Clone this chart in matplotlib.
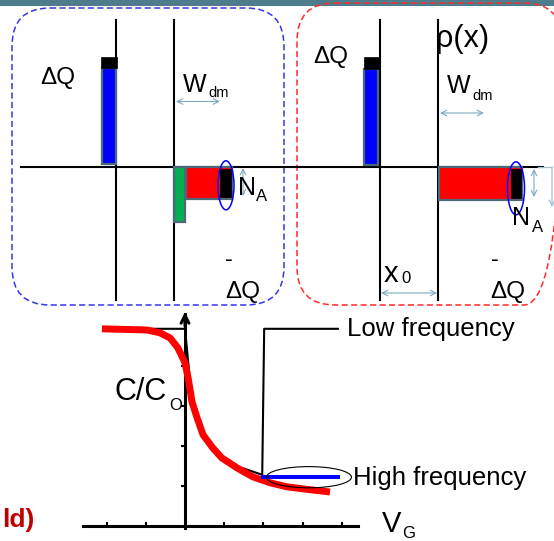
import matplotlib
matplotlib.use("Agg")
import matplotlib.pyplot as plt
from matplotlib.patches import FancyBboxPatch, Rectangle, Ellipse

plt.rcParams['font.family'] = ['Liberation Sans', 'DejaVu Sans']

# ---------------- C-V curve data (V_G in tick units, C/Co in tick units) -------------
vg_hf = [-2.12, -0.97, -0.64, -0.38, -0.18, 0.0, 0.08, 0.18, 0.31, 0.46, 0.71,
         0.94, 1.33, 1.73, 2.17, 2.60, 3.00, 3.70]
c_hf = [4.93, 4.90, 4.83, 4.70, 4.45, 4.08, 3.70, 3.10, 2.70, 2.28, 1.95,
        1.70, 1.45, 1.23, 1.08, 0.98, 0.93, 0.85]
vg_lf = [-1.0, 0.0, 0.18, 0.46, 0.94, 1.40, 1.97, 2.02, 3.90]
c_lf = [4.93, 4.93, 3.10, 2.30, 1.76, 1.47, 1.28, 4.93, 4.93]
vg_blue = [2.00, 3.90]
c_blue = [1.22, 1.22]
x_ticks = [-2, -1, 1, 2, 3, 4]
y_ticks = [1, 2, 3, 4]

# ---------------- charge-block diagram data (pixel units) ----------------
# (x_left, x_right, y_top, y_bottom)
left_gate_charge = (101.7, 115.7, 68.3, 164.3)
left_gate_cap = (101.0, 116.5, 57.3, 67.7)
left_inversion = (173.7, 184.7, 167.0, 222.0)
left_depletion = (186.0, 231.5, 167.0, 198.5)
left_dq_sub = (219.5, 230.5, 168.5, 197.0)
right_gate_charge = (364.3, 378.3, 69.3, 165.0)
right_gate_cap = (363.5, 379.0, 56.7, 69.0)
right_depletion = (438.5, 522.0, 167.0, 199.5)
right_dq_sub = (511.0, 521.0, 168.5, 198.0)

fig = plt.figure(figsize=(5.54, 5.41), dpi=100)
ax = fig.add_axes([0, 0, 1, 1])
ax.set_xlim(0, 554)
ax.set_ylim(541, 0)
ax.axis('off')

# top band
ax.add_patch(Rectangle((0, 0), 554, 6, color='#4d7d8c', zorder=0, lw=0))

# dashed rounded boxes
ax.add_patch(FancyBboxPatch((12, 8), 272, 297, boxstyle="round,pad=0,rounding_size=38",
                            fill=False, ec='#3535f0', lw=1.1, ls=(0, (4, 2.2)), zorder=1))
ax.add_patch(FancyBboxPatch((297, 3), 265, 302, boxstyle="round,pad=0,rounding_size=38",
                            fill=False, ec='#ff2a2a', lw=1.1, ls=(0, (4, 2.2)), zorder=1))

# axes lines of the diagrams
for xv in [116, 174, 380, 438]:
    ax.plot([xv, xv], [20, 300], color='black', lw=1.5, zorder=2)
ax.plot([21, 543], [166.5, 166.5], color='black', lw=1.5, zorder=2)

edge = '#4d6878'

def block(r, fc, ec=edge, lw=1.6, z=3):
    x0, x1, y0, y1 = r
    ax.add_patch(Rectangle((x0, y0), x1 - x0, y1 - y0, fc=fc, ec=ec, lw=lw, zorder=z))

block(left_gate_charge, '#0000ff')
block(left_gate_cap, 'black', ec='black', lw=0.5)
block(left_inversion, '#00b050')
block(left_depletion, '#ff0000')
block(left_dq_sub, 'black', ec='black', lw=0.5, z=4)
block(right_gate_charge, '#0000ff')
block(right_gate_cap, 'black', ec='black', lw=0.5)
block(right_depletion, '#ff0000')
block(right_dq_sub, 'black', ec='black', lw=0.5, z=4)

ax.add_patch(Ellipse((226, 185.3), 16, 49, fill=False, ec='#0000ff', lw=1.1, zorder=5))
ax.add_patch(Ellipse((516, 188.3), 17, 53, fill=False, ec='#0000ff', lw=1.1, zorder=5))

acol = '#7fa7c0'
def darrow(p0, p1):
    ax.annotate('', xy=p1, xytext=p0,
                arrowprops=dict(arrowstyle='<->', color=acol, lw=0.8,
                                mutation_scale=10, shrinkA=0, shrinkB=0), zorder=4)

darrow((176, 101.5), (220, 101.5))
darrow((440, 113), (484, 113))
darrow((381, 293), (437, 293))
darrow((243, 168), (243, 196))
darrow((534, 169), (534, 197))
ax.plot([538, 552], [167, 167], color='#a3bfd0', lw=0.9, zorder=4)
ax.annotate('', xy=(552, 207), xytext=(552, 167),
            arrowprops=dict(arrowstyle='->', color='#a3bfd0', lw=0.9,
                            mutation_scale=10, shrinkA=0, shrinkB=0), zorder=4)

def txt(x, y, s, size, **kw):
    ax.text(x, y, s, fontsize=size, ha='left', va='baseline', zorder=6, **kw)

txt(40, 84, 'ΔQ', 17.5)
txt(313, 62.5, 'ΔQ', 17.5)
txt(183, 91.7, 'W', 18)
txt(208, 97.3, 'dm', 10.5)
txt(446.7, 93.3, 'W', 18)
txt(472.7, 100, 'dm', 10.5)
txt(238.3, 195, 'N', 18)
txt(256, 201, 'A', 12)
txt(511.7, 225, 'N', 18)
txt(532.3, 231.7, 'A', 12)
ax.text(229, 260, '-', fontsize=17, ha='center', va='center', zorder=6)
ax.text(494.7, 260, '-', fontsize=17, ha='center', va='center', zorder=6)
txt(225, 298.3, 'ΔQ', 17.5)
txt(490, 298.3, 'ΔQ', 17.5)
txt(436, 46.5, 'ρ(x)', 22)
txt(383.3, 281.7, 'x', 21)
txt(401.7, 283.3, '0', 12)

# labels of the C-V chart
txt(115, 400, 'C/C', 22)
txt(169, 410, 'O', 12)
txt(347, 336, 'Low frequency', 18.5)
txt(353, 485, 'High frequency', 18.5)
txt(382, 532, 'V', 21)
txt(402, 537.5, 'G', 12)
ax.text(35, 527, 'ld)', fontsize=19, fontweight='bold', color='#c00000',
        ha='right', va='baseline', zorder=6)

# ---------------- C-V chart in its own axes ----------------
px_per_x = 39.2
px_per_y = 40.0
x_origin_px, y_origin_px = 185.0, 526.0
ax_l, ax_r, ax_t, ax_b = 83.0, 358.0, 300.0, 541.0
cv = fig.add_axes([ax_l / 554, (541 - ax_b) / 541, (ax_r - ax_l) / 554, (ax_b - ax_t) / 541])
cv.set_xlim((ax_l - x_origin_px) / px_per_x, (ax_r - x_origin_px) / px_per_x)
cv.set_ylim((y_origin_px - ax_b) / px_per_y, (y_origin_px - ax_t) / px_per_y)
cv.patch.set_alpha(0)
for s in ['top', 'right']:
    cv.spines[s].set_visible(False)
cv.spines['left'].set_position(('data', 0))
cv.spines['bottom'].set_position(('data', 0))
cv.spines['left'].set_bounds(-0.06, 5.3)
cv.spines['bottom'].set_bounds((ax_l - x_origin_px) / px_per_x, (ax_r - x_origin_px) / px_per_x)
cv.spines['left'].set_linewidth(2.2)
cv.spines['bottom'].set_linewidth(2.2)
cv.set_xticks(x_ticks)
cv.set_yticks(y_ticks)
cv.set_xticklabels([])
cv.set_yticklabels([])
cv.tick_params(axis='x', direction='in', length=3, width=1.5)
cv.tick_params(axis='y', direction='out', length=3, width=1.5)
cv.annotate('', xy=(0, 5.35), xytext=(0, 5.0),
            arrowprops=dict(arrowstyle='->', color='black', lw=2.2,
                            mutation_scale=14, shrinkA=0, shrinkB=0))

cv.plot(vg_lf, c_lf, color='black', lw=1.5, zorder=2)
cv.plot(vg_hf, c_hf, color='#ff0000', lw=5, zorder=3, solid_capstyle='butt')
cv.plot(vg_blue, c_blue, color='#0000ff', lw=2.9, zorder=4)
cv.add_patch(Ellipse((3.16, 1.22), 2.17, 0.53, fill=False, ec='black', lw=0.8, zorder=5))

fig.savefig('out.png', dpi=100)
